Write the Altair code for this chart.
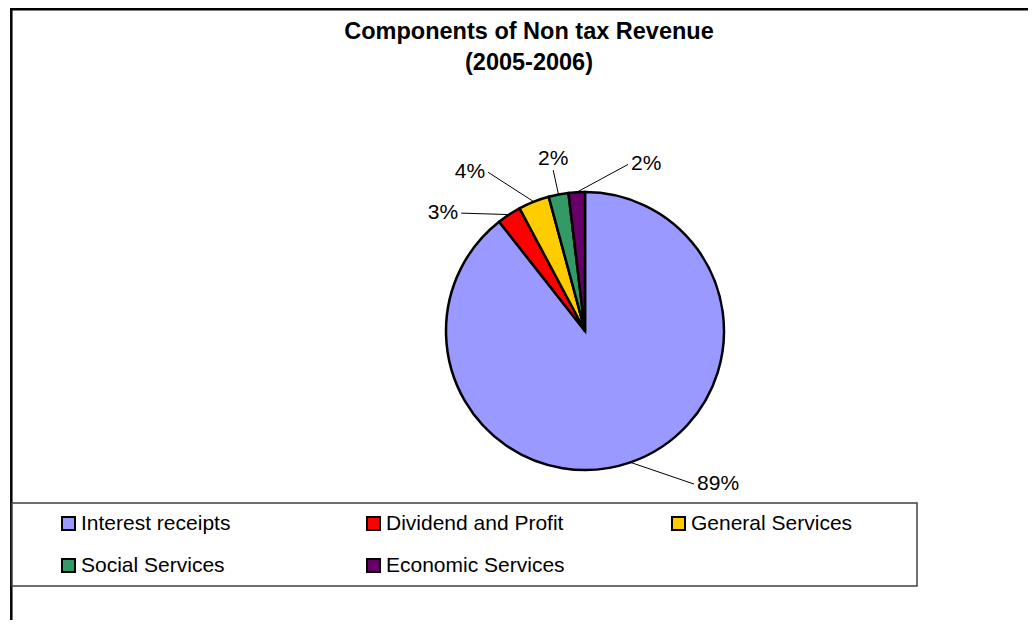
import altair as alt
import pandas as pd

# ---- data ----
categories = ["Interest receipts", "Dividend and Profit", "General Services",
              "Social Services", "Economic Services"]
values = [89.4, 2.8, 3.6, 2.3, 1.9]
colors = ["#9999FF", "#FF0000", "#FFCC00", "#339966", "#660066"]
title_lines = ["Components of Non tax Revenue", "(2005-2006)"]

# ---- label layout (leader-line ends, relative to each slice's mid-angle) ----
label_shift_deg = [-16.4, -13.3, -9.8, -0.2, 17.9]
label_radius = [188, 171, 186, 164, 172]

FONT = "Liberation Sans, Arial, sans-serif"
W, H = 1020, 612
CX, CY, R = 577, 323, 139

df = pd.DataFrame({
    "category": categories,
    "value": values,
    "order": list(range(len(categories))),
    "shift": label_shift_deg,
    "lr": label_radius,
})
one = pd.DataFrame({"k": [0]})

base = alt.Chart(df)

pie = base.mark_arc(outerRadius=R, stroke="black", strokeWidth=2.5).encode(
    theta=alt.Theta("value:Q", stack=True),
    order=alt.Order("order:Q", sort="ascending"),
    color=alt.Color(
        "category:N",
        scale=alt.Scale(domain=categories, range=colors),
        legend=alt.Legend(
            orient="none", legendX=50, legendY=505, direction="horizontal",
            columns=3, title=None, symbolType="square", symbolSize=169,
            symbolStrokeColor="black", symbolStrokeWidth=2, symbolOpacity=1,
            labelFontSize=21, labelFont=FONT, labelColor="black",
            labelOffset=2, columnPadding=103, rowPadding=20, gridAlign="all",
            labelLimit=400, padding=0,
        ),
    ),
    x=alt.value(CX),
    y=alt.value(CY),
)

geo = (
    base.transform_joinaggregate(total="sum(value)")
    .transform_window(cum="sum(value)", sort=[alt.SortField("order")], frame=[None, 0])
    .transform_calculate(mid="(datum.cum - datum.value / 2) / datum.total * 2 * PI")
    .transform_calculate(la="datum.mid + datum.shift * PI / 180")
    .transform_calculate(pct="format(datum.value / datum.total, '.0%')")
    .transform_calculate(ex=f"{CX} + {R} * sin(datum.mid)")
    .transform_calculate(ey=f"{CY} - {R} * cos(datum.mid)")
    .transform_calculate(lx=f"{CX} + datum.lr * sin(datum.la)")
    .transform_calculate(ly=f"{CY} - datum.lr * cos(datum.la)")
    .transform_calculate(
        side="sin(datum.la) < -0.22 ? 'left' : (sin(datum.la) > 0.22 ? 'right' : 'top')"
    )
)

leaders = geo.mark_rule(color="black", strokeWidth=1).encode(
    x=alt.X("ex:Q", scale=None, axis=None),
    y=alt.Y("ey:Q", scale=None, axis=None),
    x2="lx:Q",
    y2="ly:Q",
)

def label_layer(side, **kw):
    return geo.transform_filter(f"datum.side == '{side}'").mark_text(
        fontSize=21, font=FONT, color="black", **kw
    ).encode(
        x=alt.X("lx:Q", scale=None, axis=None),
        y=alt.Y("ly:Q", scale=None, axis=None),
        text="pct:N",
    )

lab_left = label_layer("left", align="right", baseline="middle", dx=-3)
lab_right = label_layer("right", align="left", baseline="middle", dx=3)
lab_top = label_layer("top", align="center", baseline="bottom", dy=-1)

frame_top = alt.Chart(one).mark_rule(color="black", strokeWidth=2.5).encode(
    x=alt.value(2), x2=alt.value(W), y=alt.value(1.2)
)
frame_left = alt.Chart(one).mark_rule(color="black", strokeWidth=2.5).encode(
    x=alt.value(3.3), y=alt.value(0), y2=alt.value(H)
)
legend_box = alt.Chart(one).mark_rect(fill="white", stroke="#404040", strokeWidth=1.5).encode(
    x=alt.value(4), x2=alt.value(909), y=alt.value(495), y2=alt.value(578)
)
title = alt.Chart(one).mark_text(
    fontSize=23.5, fontWeight="bold", font=FONT, align="center",
    baseline="alphabetic", lineHeight=31, color="black",
).encode(x=alt.value(521), y=alt.value(31), text=alt.value(title_lines))

chart = alt.layer(
    frame_top, frame_left, legend_box, pie, leaders,
    lab_left, lab_right, lab_top, title,
).properties(
    width=W, height=H, padding=0,
    autosize=alt.AutoSizeParams(type="none"),
).configure_view(stroke=None)

chart.save("out.html", embed_options={"renderer": "svg", "actions": False})
